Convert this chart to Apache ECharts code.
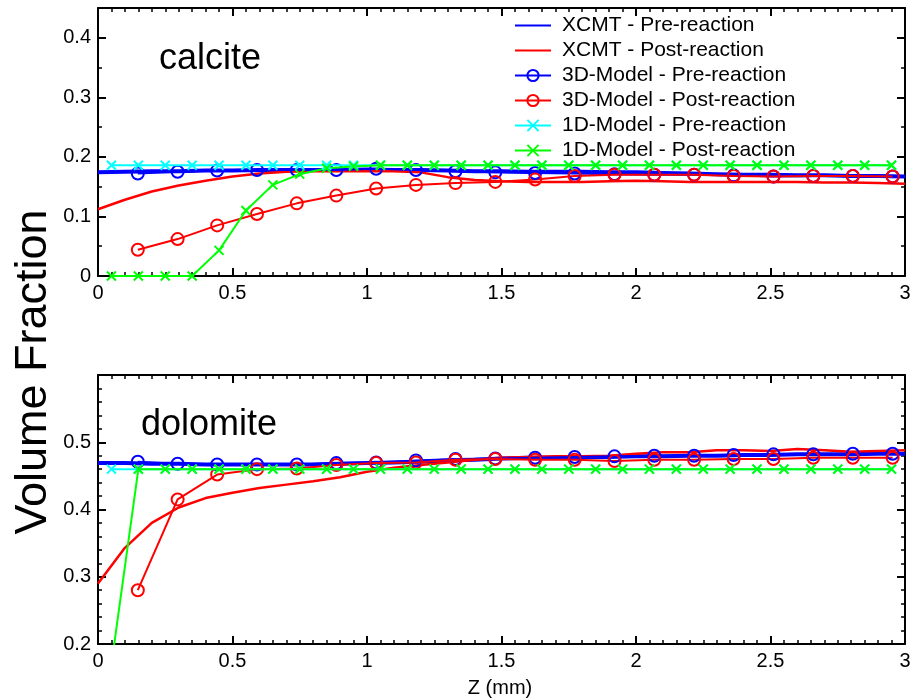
<!DOCTYPE html>
<html><head><meta charset="utf-8">
<script src="https://cdn.jsdelivr.net/npm/echarts@6/dist/echarts.min.js"></script>
<style>html,body{margin:0;padding:0;background:#fff}#c{width:920px;height:700px}</style>
</head><body><div id="c"></div>
<script>
// ---- data ----
const seriesNames = ['XCMT - Pre-reaction','XCMT - Post-reaction','3D-Model - Pre-reaction','3D-Model - Post-reaction','1D-Model - Pre-reaction','1D-Model - Post-reaction'];
const panelTitles = ['calcite','dolomite'];
const xAxisTitle = 'Z (mm)';
const yAxisTitle = 'Volume Fraction';

const xcmtZ = [0,0.1,0.2,0.3,0.4,0.5,0.6,0.7,0.8,0.9,1.0,1.1,1.2,1.3,1.4,1.5,1.6,1.7,1.8,1.9,2.0,2.1,2.2,2.3,2.4,2.5,2.6,2.7,2.8,2.9,3.0];
const model3DZ = [0.148,0.296,0.443,0.591,0.739,0.886,1.034,1.182,1.329,1.477,1.625,1.772,1.920,2.068,2.216,2.363,2.511,2.659,2.806,2.954];
const model1DZ = [0.05,0.15,0.25,0.35,0.45,0.55,0.65,0.75,0.85,0.95,1.05,1.15,1.25,1.35,1.45,1.55,1.65,1.75,1.85,1.95,2.05,2.15,2.25,2.35,2.45,2.55,2.65,2.75,2.85,2.95];

// calcite
const calciteXcmtPre  = [0.174,0.175,0.176,0.176,0.177,0.177,0.178,0.178,0.178,0.178,0.179,0.178,0.178,0.177,0.176,0.176,0.175,0.175,0.175,0.174,0.174,0.173,0.172,0.171,0.170,0.170,0.169,0.169,0.168,0.168,0.167];
const calciteXcmtPost = [0.112,0.128,0.142,0.152,0.160,0.167,0.172,0.175,0.176,0.176,0.176,0.176,0.174,0.166,0.161,0.159,0.158,0.158,0.158,0.159,0.160,0.159,0.158,0.158,0.158,0.158,0.158,0.157,0.157,0.156,0.155];
const calcite3DPre  = [0.172,0.175,0.177,0.178,0.178,0.178,0.180,0.178,0.176,0.174,0.173,0.172,0.171,0.170,0.170,0.169,0.167,0.168,0.168,0.167];
const calcite3DPost = [0.044,0.062,0.085,0.104,0.122,0.135,0.147,0.153,0.156,0.158,0.162,0.168,0.170,0.170,0.170,0.168,0.167,0.168,0.168,0.167];
const calcite1DPre  = [0.186,0.186,0.186,0.186,0.186,0.186,0.186,0.186,0.186,0.186,0.186,0.186,0.186,0.186,0.186,0.186,0.186,0.186,0.186,0.186,0.186,0.186,0.186,0.186,0.186,0.186,0.186,0.186,0.186,0.186];
const calcite1DPost = [0,0,0,0,0.043,0.110,0.153,0.171,0.181,0.184,0.186,0.186,0.186,0.186,0.186,0.186,0.186,0.186,0.186,0.186,0.186,0.186,0.186,0.186,0.186,0.186,0.186,0.186,0.186,0.186];

// dolomite
const dolomiteXcmtPre  = [0.469,0.469,0.468,0.468,0.467,0.467,0.467,0.467,0.467,0.468,0.469,0.470,0.471,0.473,0.474,0.476,0.477,0.477,0.478,0.478,0.479,0.479,0.480,0.480,0.481,0.481,0.482,0.482,0.482,0.483,0.483];
const dolomiteXcmtPost = [0.290,0.343,0.380,0.403,0.417,0.425,0.432,0.437,0.442,0.448,0.456,0.462,0.466,0.470,0.474,0.477,0.478,0.479,0.479,0.480,0.483,0.485,0.485,0.488,0.488,0.487,0.490,0.488,0.486,0.487,0.488];
const dolomite3DPre  = [0.471,0.468,0.467,0.467,0.467,0.469,0.470,0.473,0.475,0.476,0.477,0.478,0.479,0.480,0.480,0.481,0.482,0.482,0.483,0.483];
const dolomite3DPost = [0.280,0.415,0.452,0.460,0.461,0.466,0.469,0.470,0.474,0.475,0.474,0.474,0.472,0.474,0.474,0.475,0.475,0.477,0.477,0.477];
const dolomite1DPre  = [0.460,0.460,0.460,0.460,0.460,0.460,0.460,0.460,0.460,0.460,0.460,0.460,0.460,0.460,0.460,0.460,0.460,0.460,0.460,0.460,0.460,0.460,0.460,0.460,0.460,0.460,0.460,0.460,0.460,0.460];
const dolomite1DPost = [0.170,0.460,0.460,0.460,0.460,0.460,0.460,0.460,0.460,0.460,0.460,0.460,0.460,0.460,0.460,0.460,0.460,0.460,0.460,0.460,0.460,0.460,0.460,0.460,0.460,0.460,0.460,0.460,0.460,0.460];

// axis ranges / ticks
const xRange = [0, 3], xInterval = 0.5;
const calciteRange = [0, 0.45], dolomiteRange = [0.2, 0.6], yInterval = 0.1;

// ---- chart ----
const FONT = '"Liberation Sans", Arial, Helvetica, sans-serif';
const BLUE = '#0000ff', RED = '#ff0000', CYAN = '#00ffff', GREEN = '#00ff00';
const XSYM = 'path://M0,0L10,10M0,10L10,0';
const pair = (xs, ys) => xs.map((x, i) => [x, ys[i]]);

function axisBase(showLabel, minorSplit) {
  return {
    type: 'value',
    axisLine: { show: true, onZero: false, lineStyle: { color: '#000', width: 2 } },
    axisTick: { show: true, inside: true, length: 8, lineStyle: { color: '#000', width: 2 } },
    minorTick: { show: true, splitNumber: minorSplit, length: 4, lineStyle: { color: '#000', width: 1.5 } },
    splitLine: { show: false },
    minorSplitLine: { show: false },
    axisLabel: { show: showLabel, color: '#000', fontSize: 20, fontFamily: FONT, margin: 7 }
  };
}
function xAx(grid, pos, label) {
  return Object.assign(axisBase(label, 10), { gridIndex: grid, position: pos, min: xRange[0], max: xRange[1], interval: xInterval });
}
function yAx(grid, pos, label, range, minor) {
  const a = Object.assign(axisBase(label, minor), { gridIndex: grid, position: pos, min: range[0], max: range[1], interval: yInterval });
  a.axisLabel.showMaxLabel = false;
  return a;
}

function lineSeries(name, xs, ys, g, color, width) {
  return { name, type: 'line', xAxisIndex: g * 2, yAxisIndex: g * 2, data: pair(xs, ys),
    symbol: 'none', showSymbol: false, lineStyle: { color, width },
    itemStyle: { color: 'rgba(0,0,0,0)', borderWidth: 0, borderColor: 'rgba(0,0,0,0)' }, animation: false, z: 2 };
}
function circSeries(name, xs, ys, g, color) {
  return { name, type: 'line', xAxisIndex: g * 2, yAxisIndex: g * 2, data: pair(xs, ys),
    symbol: 'circle', symbolSize: 12, lineStyle: { color, width: 2 },
    itemStyle: { color: 'rgba(0,0,0,0)', borderColor: color, borderWidth: 2 }, animation: false, z: 3 };
}
function xSeries(name, xs, ys, g, color) {
  return { name, type: 'line', xAxisIndex: g * 2, yAxisIndex: g * 2, data: pair(xs, ys),
    symbol: XSYM, symbolSize: 9, lineStyle: { color, width: 2 },
    itemStyle: { color: color, borderColor: color, borderWidth: 2 }, animation: false, z: 4 };
}

const series = [];
[[calciteXcmtPre, calciteXcmtPost, calcite3DPre, calcite3DPost, calcite1DPre, calcite1DPost],
 [dolomiteXcmtPre, dolomiteXcmtPost, dolomite3DPre, dolomite3DPost, dolomite1DPre, dolomite1DPost]].forEach((d, g) => {
  series.push(lineSeries(seriesNames[0], xcmtZ, d[0], g, BLUE, 4));
  series.push(lineSeries(seriesNames[1], xcmtZ, d[1], g, RED, 2.5));
  series.push(circSeries(seriesNames[2], model3DZ, d[2], g, BLUE));
  series.push(circSeries(seriesNames[3], model3DZ, d[3], g, RED));
  series.push(xSeries(seriesNames[4], model1DZ, d[4], g, CYAN));
  series.push(xSeries(seriesNames[5], model1DZ, d[5], g, GREEN));
});

const chart = echarts.init(document.getElementById('c'), null, { renderer: 'canvas' });
chart.setOption({
  backgroundColor: '#fff',
  animation: false,
  grid: [
    { left: 98, top: 8, width: 807, height: 268, containLabel: false },
    { left: 98, top: 375, width: 807, height: 269, containLabel: false }
  ],
  xAxis: [xAx(0, 'bottom', true), xAx(0, 'top', false), xAx(1, 'bottom', true), xAx(1, 'top', false)],
  yAxis: [yAx(0, 'left', true, calciteRange, 2), yAx(0, 'right', false, calciteRange, 2),
          yAx(1, 'left', true, dolomiteRange, 5), yAx(1, 'right', false, dolomiteRange, 5)],
  legend: {
    orient: 'vertical', left: 514, top: 15, padding: 0, itemWidth: 36, itemHeight: 14, itemGap: 4,
    selectedMode: false, data: seriesNames,
    textStyle: { fontSize: 21, lineHeight: 20, color: '#000', fontFamily: FONT, padding: [0, 0, 0, 6] }
  },
  graphic: [
    { type: 'text', left: 159, top: 41, style: { text: panelTitles[0], font: '36px ' + FONT, fill: '#000' } },
    { type: 'text', left: 141, top: 407, style: { text: panelTitles[1], font: '36px ' + FONT, fill: '#000' } },
    { type: 'text', x: 500, y: 678, style: { text: xAxisTitle, font: '20px ' + FONT, fill: '#000', align: 'center', verticalAlign: 'top' } },
    { type: 'text', x: 34, y: 372, rotation: Math.PI / 2, style: { text: yAxisTitle, font: '45px ' + FONT, fill: '#000', align: 'center', verticalAlign: 'middle' } }
  ],
  series
});
</script></body></html>
